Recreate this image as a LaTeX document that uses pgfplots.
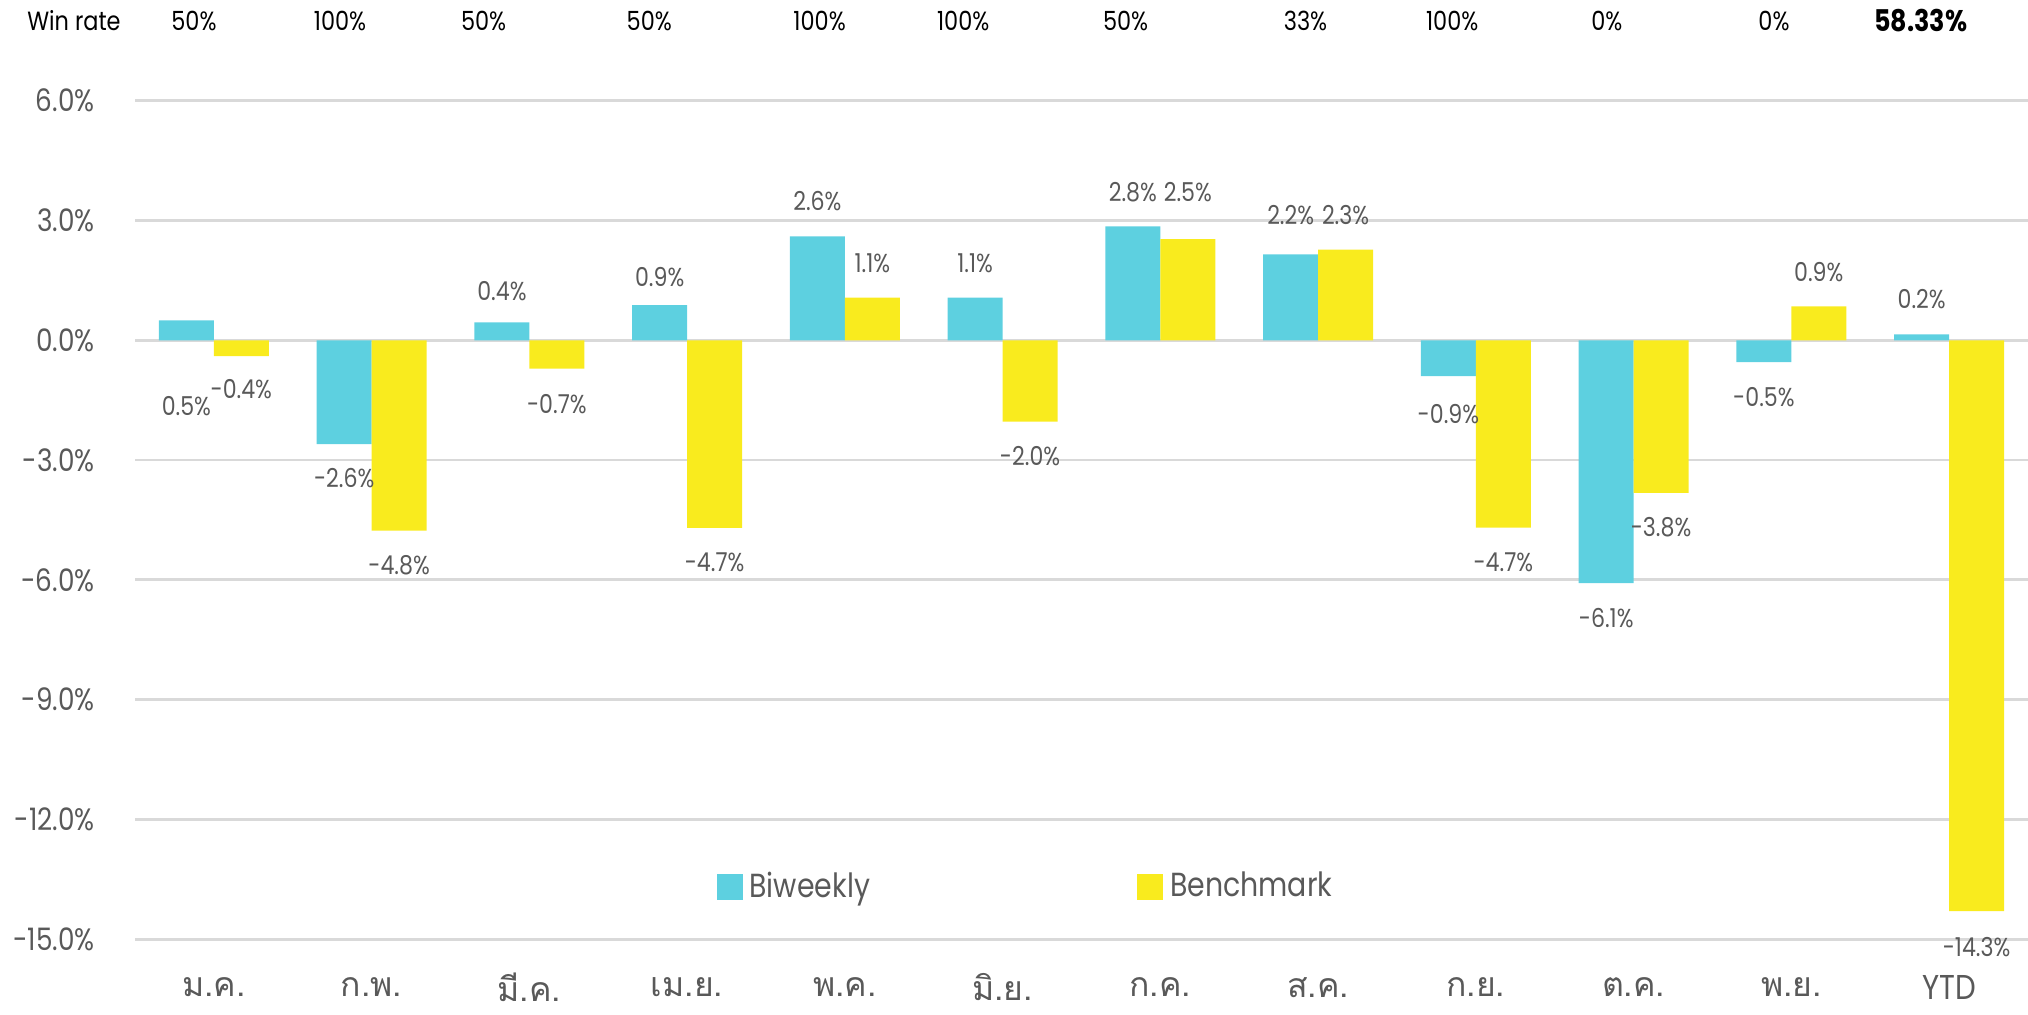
\documentclass[border=0pt]{standalone}
\usepackage{fontspec}
\setmainfont{Poppins}[FakeStretch=0.85]
\newfontfamily\thaifont[Script=Thai]{Loma}
\usepackage{pgfplots}
\pgfplotsset{compat=1.18}
\definecolor{bw}{HTML}{5DD0E0}
\definecolor{bm}{HTML}{F9EB1E}
\definecolor{grd}{HTML}{D9D9D9}
\definecolor{txt}{HTML}{595959}
\newcommand{\lab}[3]{\node[font=\fontsize{7.4}{8}\selectfont,text=txt,inner sep=0pt] at (axis cs:#1,#2) {#3\%};}
\newcommand{\win}[2]{\node[font=\fontsize{7.5}{9}\selectfont,text=black,inner sep=0pt] at (axis cs:#1,8.0) {#2};}
\begin{document}
\begin{tikzpicture}
\path[use as bounding box] (-13.5mm,-7.5mm) rectangle (189.3mm,93.92mm);
\begin{axis}[at={(0,0)},anchor=south west,scale only axis,
  width=189.3mm,height=83.85mm,
  ybar,bar width=5.5mm,ybar=0pt,
  xmin=-0.5,xmax=11.5,ymin=-15,ymax=6,
  clip=false,
  axis line style={draw=none},
  tick style={draw=none},
  ymajorgrids,grid style={grd,line width=0.8pt},
  xtick={0,...,11},
  xticklabels={{\thaifont ม.ค.},{\thaifont ก.พ.},{\thaifont มี.ค.},{\thaifont เม.ย.},{\thaifont พ.ค.},{\thaifont มิ.ย.},{\thaifont ก.ค.},{\thaifont ส.ค.},{\thaifont ก.ย.},{\thaifont ต.ค.},{\thaifont พ.ย.},{\fontsize{9.8}{11}\selectfont YTD}},
  xticklabel style={font=\fontsize{9.6}{10}\selectfont,text=txt,anchor=center,inner sep=0pt,yshift=-3.3mm},
  ytick={-15,-12,-9,-6,-3,0,3,6},
  yticklabels={-15.0\%,-12.0\%,-9.0\%,-6.0\%,-3.0\%,0.0\%,3.0\%,6.0\%},
  yticklabel style={font=\fontsize{8.8}{10}\selectfont,text=txt,anchor=east,xshift=-2.8mm},
  legend style={draw=none,fill=none,at={(0.4717,0.062)},anchor=center,
    legend columns=2,font=\fontsize{9.5}{11}\selectfont,text=txt,
    /tikz/every even column/.append style={column sep=26mm}},
]
\addplot[fill=bw,draw=none,
  legend image code/.code={\fill[bw] (0mm,-1.3mm) rectangle (2.6mm,1.3mm);}]
  coordinates {(0,0.5)(1,-2.6)(2,0.45)(3,0.88)(4,2.6)(5,1.07)(6,2.85)(7,2.15)(8,-0.9)(9,-6.08)(10,-0.55)(11,0.15)};
\addplot[fill=bm,draw=none,
  legend image code/.code={\fill[bm] (0mm,-1.3mm) rectangle (2.6mm,1.3mm);}]
  coordinates {(0,-0.4)(1,-4.77)(2,-0.71)(3,-4.7)(4,1.07)(5,-2.04)(6,2.53)(7,2.27)(8,-4.69)(9,-3.82)(10,0.85)(11,-14.3)};
\legend{Biweekly,Benchmark}
% data labels
\lab{-0.174}{-1.65}{0.5}   \lab{0.174}{-1.23}{-0.4}
\lab{0.826}{-3.46}{-2.6}   \lab{1.174}{-5.63}{-4.8}
\lab{1.826}{1.23}{0.4}     \lab{2.174}{-1.59}{-0.7}
\lab{2.826}{1.58}{0.9}     \lab{3.174}{-5.56}{-4.7}
\lab{3.826}{3.49}{2.6}     \lab{4.174}{1.94}{1.1}
\lab{4.826}{1.94}{1.1}     \lab{5.174}{-2.91}{-2.0}
\lab{5.826}{3.71}{2.8}     \lab{6.174}{3.71}{2.5}
\lab{6.826}{3.13}{2.2}     \lab{7.174}{3.13}{2.3}
\lab{7.826}{-1.85}{-0.9}   \lab{8.174}{-5.56}{-4.7}
\lab{8.826}{-6.95}{-6.1}   \lab{9.174}{-4.69}{-3.8}
\lab{9.826}{-1.43}{-0.5}   \lab{10.174}{1.71}{0.9}
\lab{10.826}{1.03}{0.2}    \lab{11.174}{-15.2}{-14.3}
% win rate row
\win{-0.887}{Win rate}
\win{-0.126}{50\%}
\win{0.80}{100\%}
\win{1.71}{50\%}
\win{2.76}{50\%}
\win{3.84}{100\%}
\win{4.75}{100\%}
\win{5.78}{50\%}
\win{6.92}{33\%}
\win{7.85}{100\%}
\win{8.83}{0\%}
\win{9.89}{0\%}
\node[font=\fontsize{8.5}{10}\selectfont\bfseries,text=black,inner sep=0pt] at (axis cs:10.82,8.0) {58.33\%};
\end{axis}
\end{tikzpicture}
\end{document}
